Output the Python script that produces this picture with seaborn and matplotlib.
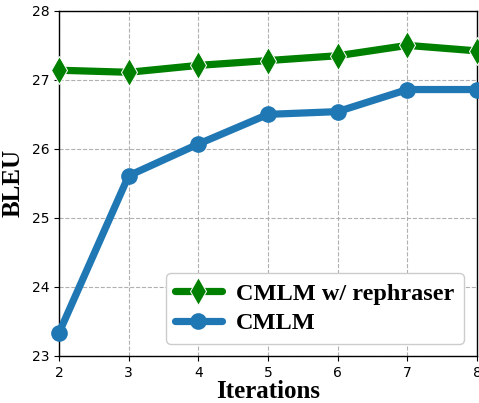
import matplotlib
matplotlib.use("Agg")
import matplotlib.pyplot as plt
import pandas as pd
import seaborn as sns

# valores
iteracoes = [2, 3, 4, 5, 6, 7, 8]
bleu_rephraser = [27.14, 27.11, 27.21, 27.28, 27.35, 27.50, 27.42]
bleu_cmlm = [23.33, 25.61, 26.07, 26.50, 26.54, 26.86, 26.86]

sns.set_style("ticks")
plt.rcParams["text.color"] = "black"
plt.rcParams["axes.labelcolor"] = "black"

df = pd.DataFrame({
    "Iterations": iteracoes * 2,
    "BLEU": bleu_rephraser + bleu_cmlm,
    "modelo": ["CMLM w/ rephraser"] * 7 + ["CMLM"] * 7,
})

fig = plt.figure(figsize=(4.79, 4.03), dpi=100)
ax = fig.add_axes([0.123, 0.117, 0.873, 0.856])

sns.lineplot(
    data=df[df.modelo == "CMLM w/ rephraser"], x="Iterations", y="BLEU",
    color="green", marker="d", markersize=14, linewidth=5.2,
    label="CMLM w/ rephraser", ax=ax, clip_on=False, zorder=3,
)
sns.lineplot(
    data=df[df.modelo == "CMLM"], x="Iterations", y="BLEU",
    color="#1f77b4", marker="o", markersize=12, linewidth=5.2,
    markeredgewidth=0, label="CMLM", ax=ax, clip_on=False, zorder=3,
)

ax.set_xlim(2, 8)
ax.set_ylim(23, 28)
ax.set_xticks(iteracoes)
ax.set_yticks([23, 24, 25, 26, 27, 28])
ax.grid(True, linestyle="--", color="#b0b0b0", linewidth=0.8)
ax.tick_params(labelsize=10, colors="black", direction="out", length=3.5)
for s in ax.spines.values():
    s.set_color("black")
    s.set_linewidth(1.0)

ax.set_xlabel("Iterations", fontsize=18, fontweight="bold", family="Liberation Serif", labelpad=0)
ax.set_ylabel("BLEU", fontsize=18, fontweight="bold", family="Liberation Serif", labelpad=5)

leg = ax.legend(
    loc="lower right", handlelength=1.9, handletextpad=0.6,
    prop={"family": "Liberation Serif", "weight": "bold", "size": 17.5},
    fancybox=True, framealpha=1, borderpad=0.4, labelspacing=0.3,
    borderaxespad=0, bbox_to_anchor=(0.969, 0.035),
)
for t in leg.get_texts():
    t.set_color("black")

plt.savefig("out.png", dpi=100)
